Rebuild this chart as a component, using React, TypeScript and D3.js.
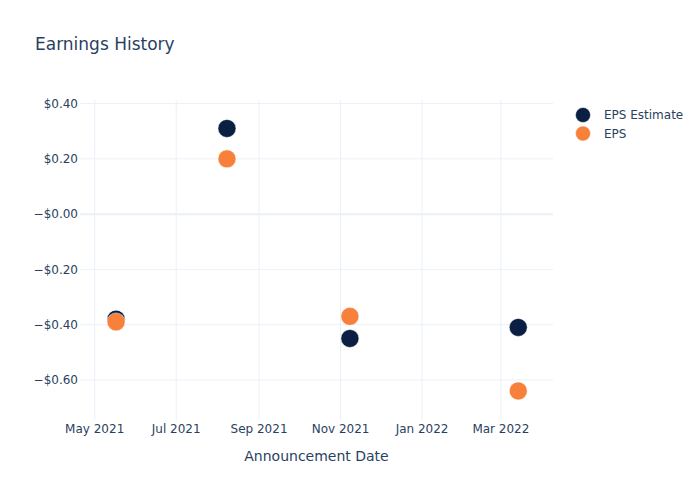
import React from "react";
import * as d3 from "d3";

const dates = ["2021-05-17", "2021-08-08", "2021-11-08", "2022-03-14"];
const epsEstimate = [-0.38, 0.31, -0.45, -0.41];
const eps = [-0.39, 0.2, -0.37, -0.64];
const yTicks = [0.4, 0.2, 0, -0.2, -0.4, -0.6];
const xTicks = ["2021-05-01", "2021-07-01", "2021-09-01", "2021-11-01", "2022-01-01", "2022-03-01"];
const seriesNames = ["EPS Estimate", "EPS"];

const W = 700, H = 500;
const M = { l: 80, r: 147, t: 100, b: 80 };
const font = '"DejaVu Sans", verdana, arial, sans-serif';
const textColor = "#2a3f5f";
const grid = "#ebf0f8";
const colors = ["#0b1f42", "#f7813a"];

export default function App() {
  const parse = d3.timeParse("%Y-%m-%d");
  const x = d3
    .scaleTime()
    .domain([parse("2021-04-20")!, parse("2022-04-09")!])
    .range([M.l, W - M.r]);
  const y = d3.scaleLinear().domain([-0.745, 0.413]).range([H - M.b, M.t]);
  const fmtX = d3.timeFormat("%b %Y");
  const fmtY = (v: number) => {
    const s = "$" + Math.abs(v).toFixed(2);
    return v > 0 ? s : "\u2212" + s;
  };
  const series = [epsEstimate, eps];

  return (
    <svg width={W} height={H} style={{ display: "block", position: "absolute", left: 0, top: 0 }} fontFamily={font}>
      <rect width={W} height={H} fill="#fff" />
      {xTicks.map((t) => (
        <line key={t} x1={x(parse(t)!)} x2={x(parse(t)!)} y1={M.t} y2={H - M.b} stroke={grid} strokeWidth={1} />
      ))}
      {yTicks.map((t) => (
        <line key={t} x1={M.l} x2={W - M.r} y1={y(t)} y2={y(t)} stroke={grid} strokeWidth={t === 0 ? 2 : 1} />
      ))}
      {yTicks.map((t) => (
        <text key={t} x={M.l - 2} y={y(t)} dy="0.35em" textAnchor="end" fontSize={12} fill={textColor}>
          {fmtY(t)}
        </text>
      ))}
      {xTicks.map((t) => (
        <text key={t} x={x(parse(t)!)} y={H - M.b + 13} textAnchor="middle" fontSize={12} fill={textColor}>
          {fmtX(parse(t)!)}
        </text>
      ))}
      <text x={M.l + (W - M.r - M.l) / 2} y={461} textAnchor="middle" fontSize={14} fill={textColor}>
        Announcement Date
      </text>
      <text x={35} y={50} fontSize={17} fill={textColor}>
        Earnings History
      </text>
      {series.map((s, si) =>
        s.map((v, i) => (
          <circle key={si + "-" + i} cx={x(parse(dates[i])!)} cy={y(v)} r={9} fill={colors[si]} stroke="#fff" strokeWidth={0.5} />
        ))
      )}
      {seriesNames.map((n, i) => (
        <g key={n} transform={`translate(583, ${115 + i * 18.5})`}>
          <circle r={7.5} fill={colors[i]} stroke="#fff" strokeWidth={0.5} />
          <text x={21} dy="0.35em" fontSize={12} fill={textColor}>
            {n}
          </text>
        </g>
      ))}
    </svg>
  );
}
